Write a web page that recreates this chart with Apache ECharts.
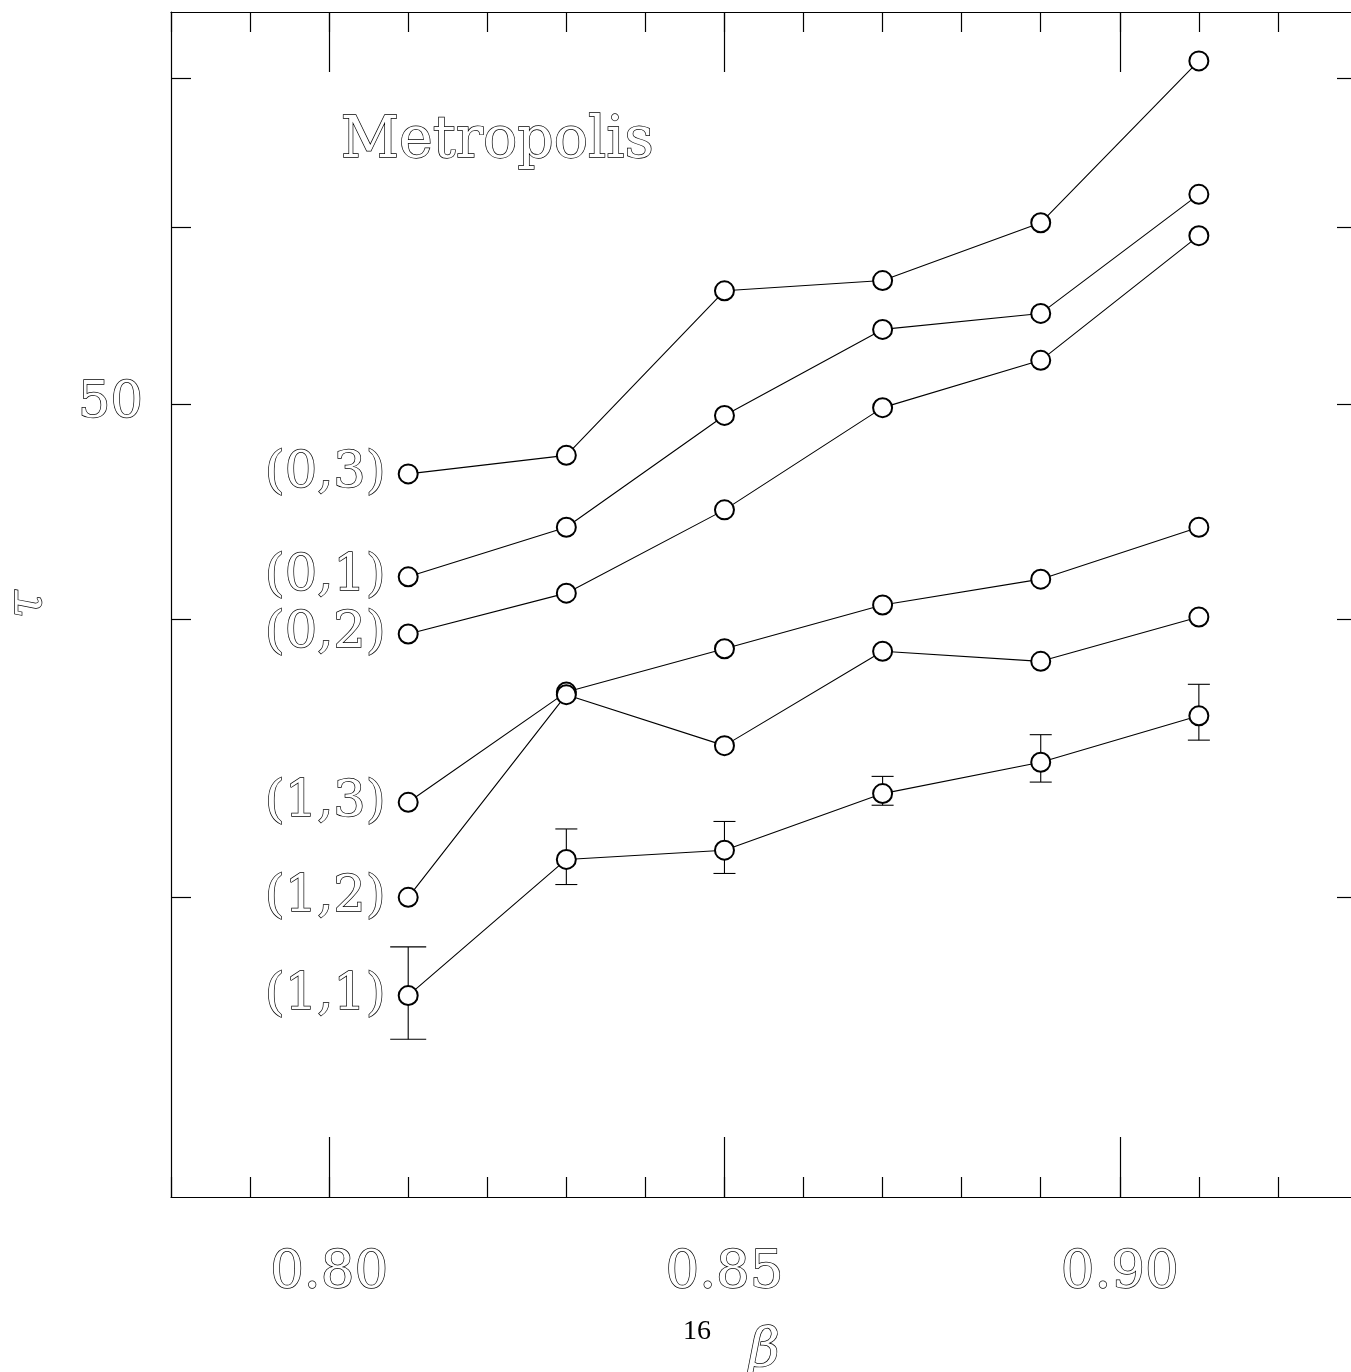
<!DOCTYPE html>
<html><head><meta charset="utf-8">
<script src="https://cdn.jsdelivr.net/npm/echarts@6/dist/echarts.min.js"></script>
<style>html,body{margin:0;padding:0;background:#fff}#c{width:1351px;height:1372px}</style>
</head><body><div id="c"></div>
<script>
const betas = [0.81, 0.83, 0.85, 0.87, 0.89, 0.91];
const tau03 = [46.5, 47.4, 56.2, 56.8, 60.3, 71.3];
const tau01 = [41.8, 44.0, 49.4, 54.0, 54.9, 62.1];
const tau02 = [39.4, 41.1, 44.8, 49.8, 52.3, 59.5];
const tau13 = [33.1, 37.1, 38.8, 40.6, 41.7, 44.0];
const tau12 = [30.0, 37.0, 35.1, 38.7, 38.3, 40.1];
const tau11 = [27.1, 31.2, 31.5, 33.4, 34.5, 36.2];
const tau11Lo = [25.9, 30.4, 30.75, 33.0, 33.8, 35.3];
const tau11Hi = [28.5, 32.2, 32.45, 34.0, 35.5, 37.4];
const seriesNames = ['(0,3)', '(0,1)', '(0,2)', '(1,3)', '(1,2)', '(1,1)'];
const seriesValues = [tau03, tau01, tau02, tau13, tau12, tau11];
const xMajorTicks = [0.80, 0.85, 0.90];
const yTicks = [30, 40, 50, 60, 70];
const yLabelTicks = [50];
const yMin = 22, yMax = 75;

const L = v => Math.log10(v);
const hollow = {color: '#fff', textBorderColor: '#000', textBorderWidth: 1.4, fontFamily: 'DejaVu Serif', fontSize: 51};

const chart = echarts.init(document.getElementById('c'), null, {renderer: 'canvas'});

const lineSeries = seriesNames.map((name, si) => ({
  type: 'line', name: name, xAxisIndex: 0, yAxisIndex: 0,
  data: betas.map((b, i) => [b, L(seriesValues[si][i])]),
  symbol: 'emptyCircle', symbolSize: 19,
  lineStyle: {color: '#000', width: 1.1},
  itemStyle: {color: '#000', borderColor: '#000', borderWidth: 1.3},
  label: {
    show: true, position: 'left', distance: 12,
    formatter: p => p.dataIndex === 0 ? name : '',
    ...hollow
  },
  emphasis: {disabled: true}, animation: false, z: 3
}));

const errSeries = {
  type: 'custom', xAxisIndex: 0, yAxisIndex: 0, z: 2, animation: false,
  data: betas.map((b, i) => [b, L(tau11Lo[i]), L(tau11Hi[i])]),
  renderItem: (params, api) => {
    const lo = api.coord([api.value(0), api.value(1)]);
    const hi = api.coord([api.value(0), api.value(2)]);
    const w = params.dataIndex === 0 ? 18 : 11;
    const st = {stroke: '#000', lineWidth: 1.1};
    return {type: 'group', children: [
      {type: 'line', shape: {x1: lo[0], y1: lo[1], x2: hi[0], y2: hi[1]}, style: st},
      {type: 'line', shape: {x1: lo[0] - w, y1: lo[1], x2: lo[0] + w, y2: lo[1]}, style: st},
      {type: 'line', shape: {x1: hi[0] - w, y1: hi[1], x2: hi[0] + w, y2: hi[1]}, style: st}
    ]};
  }
};

const axLine = {show: true, lineStyle: {color: '#000', width: 1.2}};
const baseX = {type: 'value', min: 0.78, max: 0.93, interval: 0.01, splitLine: {show: false}};

chart.setOption({
  animation: false,
  grid: {left: 171, top: 12, width: 1186, height: 1185, outerBoundsMode: 'none', containLabel: false},
  xAxis: [
    {...baseX, position: 'bottom', axisLine: axLine,
      axisTick: {show: true, inside: true, length: 20, lineStyle: {color: '#000', width: 1.2}},
      axisLabel: {show: true, customValues: xMajorTicks, formatter: v => v.toFixed(2), margin: 50, ...hollow, fontSize: 53},
      name: 'β', nameLocation: 'middle', nameGap: 128,
      nameTextStyle: {...hollow, fontStyle: 'italic', fontSize: 54}},
    {...baseX, position: 'bottom', axisLine: {show: false}, axisLabel: {show: false},
      axisTick: {show: true, inside: true, length: 60, customValues: xMajorTicks, lineStyle: {color: '#000', width: 1.2}}},
    {...baseX, position: 'top', axisLine: axLine, axisLabel: {show: false},
      axisTick: {show: true, inside: true, length: 20, lineStyle: {color: '#000', width: 1.2}}},
    {...baseX, position: 'top', axisLine: {show: false}, axisLabel: {show: false},
      axisTick: {show: true, inside: true, length: 60, customValues: xMajorTicks, lineStyle: {color: '#000', width: 1.2}}}
  ],
  yAxis: [
    {type: 'value', position: 'left', min: L(yMin), max: L(yMax), splitLine: {show: false}, axisLine: axLine,
      axisTick: {show: true, inside: true, length: 20, customValues: yTicks.map(L), lineStyle: {color: '#000', width: 1.2}},
      axisLabel: {show: true, customValues: yLabelTicks.map(L), formatter: v => String(Math.round(Math.pow(10, v))), margin: 28, ...hollow},
      name: 'τ', nameLocation: 'middle', nameGap: 118, nameRotate: 90,
      nameTextStyle: {...hollow, fontStyle: 'italic', fontSize: 50}},
    {type: 'value', position: 'right', min: L(yMin), max: L(yMax), splitLine: {show: false}, axisLine: axLine,
      axisTick: {show: true, inside: true, length: 20, customValues: yTicks.map(L), lineStyle: {color: '#000', width: 1.2}},
      axisLabel: {show: false}}
  ],
  graphic: [
    {type: 'text', left: 340, top: 113, style: {text: 'Metropolis', fill: '#fff', stroke: '#000', lineWidth: 1.4, font: '57px "DejaVu Serif"'}},
    {type: 'text', left: 683, top: 1318, style: {text: '16', fill: '#000', font: '28px "Liberation Serif"'}}
  ],
  series: [errSeries, ...lineSeries]
});
</script></body></html>
